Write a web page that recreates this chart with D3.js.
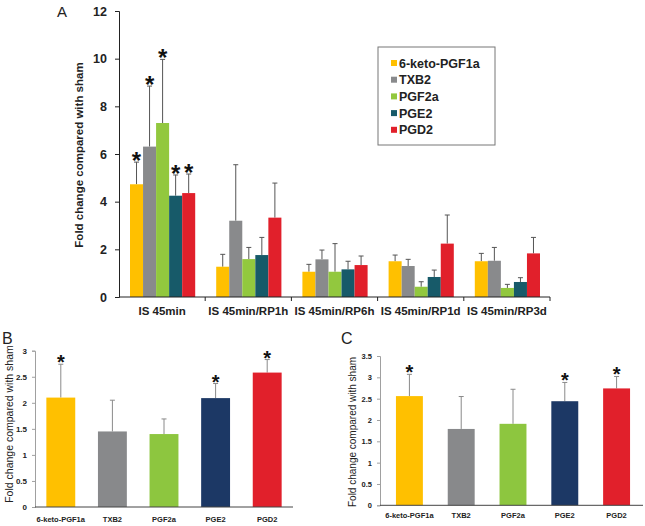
<!DOCTYPE html>
<html><head><meta charset="utf-8">
<script src="https://cdn.jsdelivr.net/npm/d3@7"></script>
<style>body{margin:0;background:#fff}svg{display:block}text{font-family:"Liberation Sans",Arial,sans-serif}</style>
</head><body>
<svg id="c" width="645" height="526"></svg>
<script>
// ---- Panel A data ----
const groupsA = ["IS 45min","IS 45min/RP1h","IS 45min/RP6h","IS 45min/RP1d","IS 45min/RP3d"];
const seriesA = ["6-keto-PGF1a","TXB2","PGF2a","PGE2","PGD2"];
const ketoA = [4.73,1.27,1.06,1.50,1.50];
const txb2A = [6.31,3.20,1.58,1.30,1.52];
const pgf2aA = [7.30,1.59,1.06,0.43,0.38];
const pge2A = [4.25,1.76,1.16,0.84,0.63];
const pgd2A = [4.36,3.33,1.34,2.24,1.83];
const ketoErrA = [5.66,1.79,1.37,1.76,1.83];
const txb2ErrA = [8.85,5.55,1.97,1.58,2.08];
const pgf2aErrA = [9.97,2.08,2.24,0.64,0.53];
const pge2ErrA = [5.12,2.50,1.50,1.13,0.81];
const pgd2ErrA = [5.16,4.78,1.72,3.44,2.50];
const starsA = [[true,true,true,true,true],[false,false,false,false,false],[false,false,false,false,false],[false,false,false,false,false],[false,false,false,false,false]];
const ticksA = [0,2,4,6,8,10,12];
// ---- Panel B data ----
const catsB = ["6-keto-PGF1a","TXB2","PGF2a","PGE2","PGD2"];
const valsB = [2.10,1.45,1.40,2.09,2.58];
const errB = [2.74,2.05,1.69,2.37,2.83];
const starsB = [true,false,false,true,true];
const ticksB = [0,0.5,1,1.5,2,2.5,3];
// ---- Panel C data ----
const catsC = ["6-keto-PGF1a","TXB2","PGF2a","PGE2","PGD2"];
const valsC = [2.56,1.79,1.91,2.44,2.74];
const errC = [3.07,2.55,2.72,2.88,3.02];
const starsC = [true,false,false,true,true];
const ticksC = [0,0.5,1,1.5,2,2.5,3,3.5];

const colorsA = ["#FFC000","#898A8C","#92C83E","#175A69","#E1202B"];
const colorsBC = ["#FFC000","#88898B","#8DC63F","#1C3865","#E1202B"];

const svg = d3.select("#c");

// ================= Panel A =================
(function(){
  const vals = [ketoA,txb2A,pgf2aA,pge2A,pgd2A];
  const errs = [ketoErrA,txb2ErrA,pgf2aErrA,pge2ErrA,pgd2ErrA];
  const y = d3.scaleLinear().domain([0,12]).range([297,11]);
  const x0 = d3.scaleBand().domain(groupsA).range([119,550]);
  const x1 = d3.scaleBand().domain(seriesA).range([11, x0.bandwidth()-10]);
  const g = svg.append("g");
  const data = [];
  groupsA.forEach((gr,i)=>seriesA.forEach((s,j)=>data.push({gr,s,i,j,v:vals[j][i],e:errs[j][i],star:starsA[i][j]})));
  g.selectAll(".eb").data(data).join("g").each(function(d){
    const cx = x0(d.gr)+x1(d.s)+x1.bandwidth()/2;
    const s = d3.select(this);
    s.append("line").attr("x1",cx).attr("x2",cx).attr("y1",y(d.v)).attr("y2",y(d.e)).attr("stroke","#555").attr("stroke-width",1);
    s.append("line").attr("x1",cx-2.5).attr("x2",cx+2.5).attr("y1",y(d.e)).attr("y2",y(d.e)).attr("stroke","#555").attr("stroke-width",1);
  });
  g.selectAll(".bar").data(data).join("rect")
    .attr("x",d=>x0(d.gr)+x1(d.s)).attr("width",x1.bandwidth())
    .attr("y",d=>y(d.v)).attr("height",d=>y(0)-y(d.v)).attr("fill",d=>colorsA[d.j]);
  g.selectAll(".star").data(data.filter(d=>d.star)).join("text")
    .attr("x",d=>x0(d.gr)+x1(d.s)+x1.bandwidth()/2).attr("y",d=>y(d.e)+7)
    .attr("text-anchor","middle").attr("font-size",24).attr("font-weight","bold").attr("fill","#111").text("*");
  const ya = g.append("g").attr("transform","translate(119,0)").call(d3.axisLeft(y).tickValues(ticksA).tickSize(4).tickPadding(8));
  ya.selectAll("text").attr("font-size",12.5).attr("font-weight","bold").attr("fill","#222").attr("font-family","Liberation Sans, Arial");
  ya.selectAll("line,path").attr("stroke","#222");
  const xa = g.append("g").attr("transform","translate(0,297)");
  xa.append("line").attr("x1",119).attr("x2",550).attr("stroke","#222");
  xa.selectAll(".tk").data(groupsA).join("line").attr("x1",d=>x0(d)+x0.bandwidth()).attr("x2",d=>x0(d)+x0.bandwidth()).attr("y1",0).attr("y2",4).attr("stroke","#222");
  xa.selectAll(".lb").data(groupsA).join("text").attr("x",d=>x0(d)+x0.bandwidth()/2).attr("y",18)
    .attr("text-anchor","middle").attr("font-size",11.5).attr("font-weight","bold").attr("fill","#222").text(d=>d);
  g.append("text").attr("transform","translate(83,155) rotate(-90)").attr("text-anchor","middle")
    .attr("font-size",11.5).attr("font-weight","bold").attr("fill","#222").text("Fold change compared with sham");
  g.append("text").attr("x",57).attr("y",17).attr("font-size",15).attr("fill","#222").text("A");
  const lg = g.append("g");
  lg.append("rect").attr("x",378).attr("y",47).attr("width",117).attr("height",98).attr("fill","#fff").attr("stroke","#777");
  seriesA.forEach((s,j)=>{
    const yy = 63 + j*16.7;
    lg.append("rect").attr("x",391).attr("y",yy-3).attr("width",6).attr("height",6).attr("fill",colorsA[j]);
    lg.append("text").attr("x",399).attr("y",yy+4.5).attr("font-size",12.5).attr("font-weight","bold").attr("fill","#222").text(s);
  });
})();

// ================= Panels B and C =================
function smallPanel(opt){
  const g = svg.append("g");
  const y = d3.scaleLinear().domain([0,opt.max]).range(opt.yr);
  const x = d3.scaleBand().domain(opt.cats).range(opt.xr).paddingInner(opt.pi).paddingOuter(opt.po);
  const data = opt.cats.map((c,i)=>({c,i,v:opt.vals[i],e:opt.errs[i],star:opt.stars[i]}));
  g.selectAll(".eb").data(data).join("g").each(function(d){
    const cx = x(d.c)+x.bandwidth()/2;
    const s = d3.select(this);
    s.append("line").attr("x1",cx).attr("x2",cx).attr("y1",y(d.v)).attr("y2",y(d.e)).attr("stroke","#8a8a8a");
    s.append("line").attr("x1",cx-2.5).attr("x2",cx+2.5).attr("y1",y(d.e)).attr("y2",y(d.e)).attr("stroke","#8a8a8a");
  });
  g.selectAll(".bar").data(data).join("rect").attr("x",d=>x(d.c)).attr("width",x.bandwidth())
    .attr("y",d=>y(d.v)).attr("height",d=>y(0)-y(d.v)).attr("fill",d=>colorsBC[d.i]);
  g.selectAll(".star").data(data.filter(d=>d.star)).join("text")
    .attr("x",d=>x(d.c)+x.bandwidth()/2).attr("y",d=>y(d.e)+5)
    .attr("text-anchor","middle").attr("font-size",20).attr("font-weight","bold").attr("fill","#111").text("*");
  const ya = g.append("g").attr("transform",`translate(${opt.axisX},0)`).call(d3.axisLeft(y).tickValues(opt.ticks).tickSize(3).tickPadding(5).tickFormat(d3.format("")));
  ya.selectAll("text").attr("font-size",opt.tf).attr("font-weight","bold").attr("fill","#222").attr("font-family","Liberation Sans, Arial");
  ya.selectAll("line,path").attr("stroke","#a0a0a0");
  g.append("line").attr("x1",opt.axisX).attr("x2",opt.axisEnd).attr("y1",y(0)).attr("y2",y(0)).attr("stroke","#444");
  g.selectAll(".lb").data(opt.cats).join("text").attr("x",d=>x(d)+x.bandwidth()/2).attr("y",opt.labY)
    .attr("text-anchor","middle").attr("font-size",7.5).attr("font-weight","bold").attr("fill","#222").text(d=>d);
  g.append("text").attr("transform",`translate(${opt.ylx},${opt.yly}) rotate(-90)`).attr("text-anchor","middle")
    .attr("font-size",opt.ylf).attr("fill","#222").text("Fold change compared with sham");
  g.append("text").attr("x",opt.lx).attr("y",opt.ly).attr("font-size",16).attr("fill","#222").text(opt.letter);
}
smallPanel({cats:catsB,vals:valsB,errs:errB,stars:starsB,ticks:ticksB,max:3,yr:[507,350.7],xr:[35,293],pi:0.44,po:0.22,
  axisX:35,axisEnd:293,tf:8,labY:522,ylx:13,yly:424,ylf:10.5,letter:"B",lx:2,ly:344});
smallPanel({cats:catsC,vals:valsC,errs:errC,stars:starsC,ticks:ticksC,max:3.5,yr:[505.3,356],xr:[383,643],pi:0.48,po:0.25,
  axisX:380,axisEnd:643,tf:7.5,labY:518,ylx:356,yly:432,ylf:10,letter:"C",lx:341,ly:344});
</script>
</body></html>
